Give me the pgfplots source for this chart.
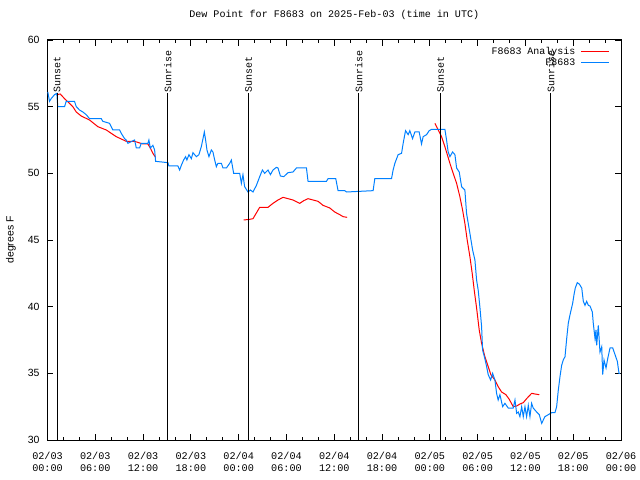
\documentclass[border=0pt]{standalone}
\usepackage{pgfplots}
\pgfplotsset{compat=1.18}
\usepackage{fontspec}
\setmainfont{Liberation Mono}
\newfontfamily\sansf{Liberation Sans}
\definecolor{obsblue}{RGB}{0,128,255}
\definecolor{anred}{RGB}{255,0,0}

\pgfplotstableread{
h v
0.04 56.1
0.25 55.4
0.46 55.6
0.88 55.9
1.17 56.0
1.29 55.0
2.14 55.0
2.35 55.4
3.39 55.4
3.61 55.0
4.02 54.75
4.44 54.6
4.86 54.4
5.28 54.1
6.75 54.1
6.95 53.9
7.79 53.75
8.00 53.5
8.21 53.25
9.05 53.25
9.26 53.0
9.68 52.6
9.89 52.5
10.09 52.25
10.93 52.5
11.15 51.9
11.56 51.9
11.77 52.25
12.60 52.25
12.73 52.5
12.91 51.9
13.23 52.1
13.45 51.75
13.57 50.9
15.12 50.8
15.24 50.55
16.37 50.55
16.59 50.25
16.80 50.6
17.09 51.0
17.34 51.25
17.50 51.0
17.76 51.4
18.06 51.1
18.26 51.55
18.69 51.25
19.01 51.4
19.31 52.0
19.52 52.6
19.69 53.1
19.85 52.5
20.02 51.75
20.27 51.25
20.57 51.75
20.77 51.6
20.99 51.0
21.20 50.5
21.40 50.75
21.83 50.75
22.03 50.4
22.46 50.4
22.87 50.75
23.08 51.0
23.37 50.0
24.13 50.0
24.34 49.25
24.54 49.9
24.75 49.0
25.17 48.6
25.47 48.75
25.80 48.6
26.23 49.1
26.64 49.75
26.98 50.25
27.27 50.0
27.68 50.25
27.99 49.9
28.31 50.25
28.74 50.45
28.94 50.4
29.24 49.8
29.66 49.75
30.20 50.05
30.82 50.1
31.25 50.4
32.51 50.4
32.71 49.4
35.02 49.4
35.22 49.6
36.19 49.6
36.48 48.7
37.32 48.7
37.54 48.6
40.88 48.7
41.09 49.6
43.19 49.6
43.39 50.25
43.61 50.75
44.02 51.4
44.45 51.5
44.65 52.25
44.95 53.2
45.28 52.9
45.49 53.2
45.83 52.6
46.12 53.1
46.66 53.1
46.96 52.2
47.16 52.75
47.59 52.9
47.92 53.2
48.22 53.3
49.89 53.3
50.10 52.5
50.30 51.6
50.52 51.25
50.86 51.6
51.15 51.4
51.36 50.4
51.69 50.1
51.99 49.0
52.40 48.75
52.61 47.0
53.03 45.5
53.37 44.25
53.66 43.5
53.87 42.0
54.07 41.25
54.28 40.0
54.50 38.5
54.62 36.75
54.91 36.1
55.13 35.5
55.33 34.9
55.63 34.5
55.88 35.0
56.17 34.5
56.38 33.5
56.58 33.0
56.80 33.4
57.14 32.5
57.43 32.75
57.84 32.4
58.47 32.4
58.69 33.0
58.90 32.0
59.10 32.1
59.31 31.75
59.53 32.5
59.73 31.75
59.94 32.5
60.15 31.75
60.36 32.6
60.57 31.75
60.78 32.75
60.98 32.4
61.41 32.1
61.74 31.9
62.04 31.25
62.45 31.75
62.87 31.9
63.30 32.05
63.71 32.05
63.92 32.5
64.13 33.75
64.34 34.75
64.55 35.6
64.75 36.0
64.97 36.25
65.18 37.6
65.38 38.75
65.60 39.4
65.93 40.25
66.10 40.9
66.26 41.4
66.51 41.8
66.76 41.7
67.07 41.4
67.27 40.4
67.48 40.1
67.69 40.4
67.90 40.1
68.11 40.05
68.40 39.6
68.52 38.75
68.74 37.6
68.86 38.25
68.95 37.1
69.15 38.6
69.36 36.6
69.58 37.0
69.70 34.9
69.87 36.0
70.12 35.4
70.33 36.1
70.62 36.9
70.96 36.9
71.25 36.4
71.54 35.9
71.75 35.0
71.88 35.0
}\obs

\pgfplotstableread{
h v
1.17 55.9
1.60 55.95
2.14 55.6
2.76 55.25
3.18 55.0
3.61 54.6
4.23 54.3
5.28 54.0
6.32 53.5
7.38 53.25
8.63 52.75
9.89 52.4
10.93 52.4
11.98 52.2
12.60 52.2
12.91 51.9
13.23 51.5
13.57 51.2
14.0 nan
24.63 46.5
25.38 46.55
25.80 46.6
26.64 47.45
27.68 47.45
28.31 47.75
28.94 48.0
29.57 48.2
30.20 48.1
30.82 48.0
31.67 47.75
32.17 47.95
32.71 48.1
33.34 48.0
33.97 47.9
34.59 47.6
35.44 47.4
36.06 47.1
36.69 46.9
37.11 46.75
37.61 46.7
40.0 nan
48.63 53.75
49.05 53.25
49.47 52.75
49.89 52.0
50.52 50.75
50.93 50.0
51.36 49.25
51.77 48.25
52.11 47.25
52.40 46.25
52.69 45.0
53.03 43.75
53.32 42.5
53.57 41.25
53.87 39.9
54.20 38.25
54.50 37.25
54.91 36.25
55.33 35.5
55.66 34.9
56.17 34.5
56.58 34.0
57.01 33.6
57.55 33.4
57.97 33.05
58.47 32.5
58.90 32.55
59.31 32.7
59.73 32.8
60.15 33.1
60.78 33.5
61.20 33.45
61.74 33.4
}\ana

\begin{document}
\begin{tikzpicture}
\begin{axis}[
  name=ax,
  scale only axis,
  width=573.5bp, height=400bp,
  xmin=0, xmax=72, ymin=30, ymax=60,
  clip=false,
  unbounded coords=jump,
  xtick={0,6,...,72},
  minor x tick num=2,
  xticklabels={{02/03\\00:00},{02/03\\06:00},{02/03\\12:00},{02/03\\18:00},{02/04\\00:00},{02/04\\06:00},{02/04\\12:00},{02/04\\18:00},{02/05\\00:00},{02/05\\06:00},{02/05\\12:00},{02/05\\18:00},{02/06\\00:00}},
  xticklabel style={align=center, font=\fontsize{10.2}{12.2}\selectfont, yshift=-8.5bp},
  ytick={30,35,...,60},
  yticklabel style={font=\sansf\fontsize{10.5}{12}\selectfont, xshift=-4.5bp},
  /pgf/number format/assume math mode=true,
  ylabel={degrees F},
  ylabel style={font=\sansf\fontsize{10.5}{12}\selectfont, at={(axis description cs:-0.064,0.5)}, anchor=center},
  title={Dew Point for F8683 on 2025-Feb-03 (time in UTC)},
  title style={font=\fontsize{10.1}{12}\selectfont, at={(axis description cs:0.5,1)}, anchor=base, yshift=17bp},
  tick align=inside,
  major tick length=6bp, minor tick length=3bp,
  tick style={black, line width=0.8bp},
  axis line style={line width=1bp},
  legend style={at={(axis description cs:1,1)}, anchor=north east, xshift=-10bp, yshift=-4bp,
    draw=none, fill=none, font=\fontsize{10}{12}\selectfont, row sep=-1bp,
    legend cell align=right, inner sep=1bp, column sep=0bp,
    nodes={inner xsep=5.5bp}},
  legend plot pos=right,
  legend image code/.code={\draw[#1,line width=1bp] (0bp,0bp) -- (28bp,0bp);},
]
\addplot[anred, line width=1bp, mark=none] table[x=h,y=v] {\ana};
\addlegendentry{F8683 Analysis}
\addplot[obsblue, line width=1bp, mark=none] table[x=h,y=v] {\obs};
\addlegendentry{F8683}

\foreach \xx/\lab in {1.2/Sunset, 15.1/Sunrise, 25.25/Sunset, 39.08/Sunrise, 49.35/Sunset, 63.2/Sunrise} {
  \edef\tmp{\noexpand\draw[black, line width=1bp] (axis cs:\xx,30) -- (axis cs:\xx,56.0);
    \noexpand\node[rotate=90, anchor=west, inner sep=1bp, font=\noexpand\fontsize{10}{12}\noexpand\selectfont] at (axis cs:\xx,56.0) {\lab};}
  \tmp
}
\end{axis}
\pgfresetboundingbox
\path ([xshift=-47.5bp,yshift=-40bp]ax.south west) rectangle ([xshift=19bp,yshift=40bp]ax.north east);
\end{tikzpicture}
\end{document}
